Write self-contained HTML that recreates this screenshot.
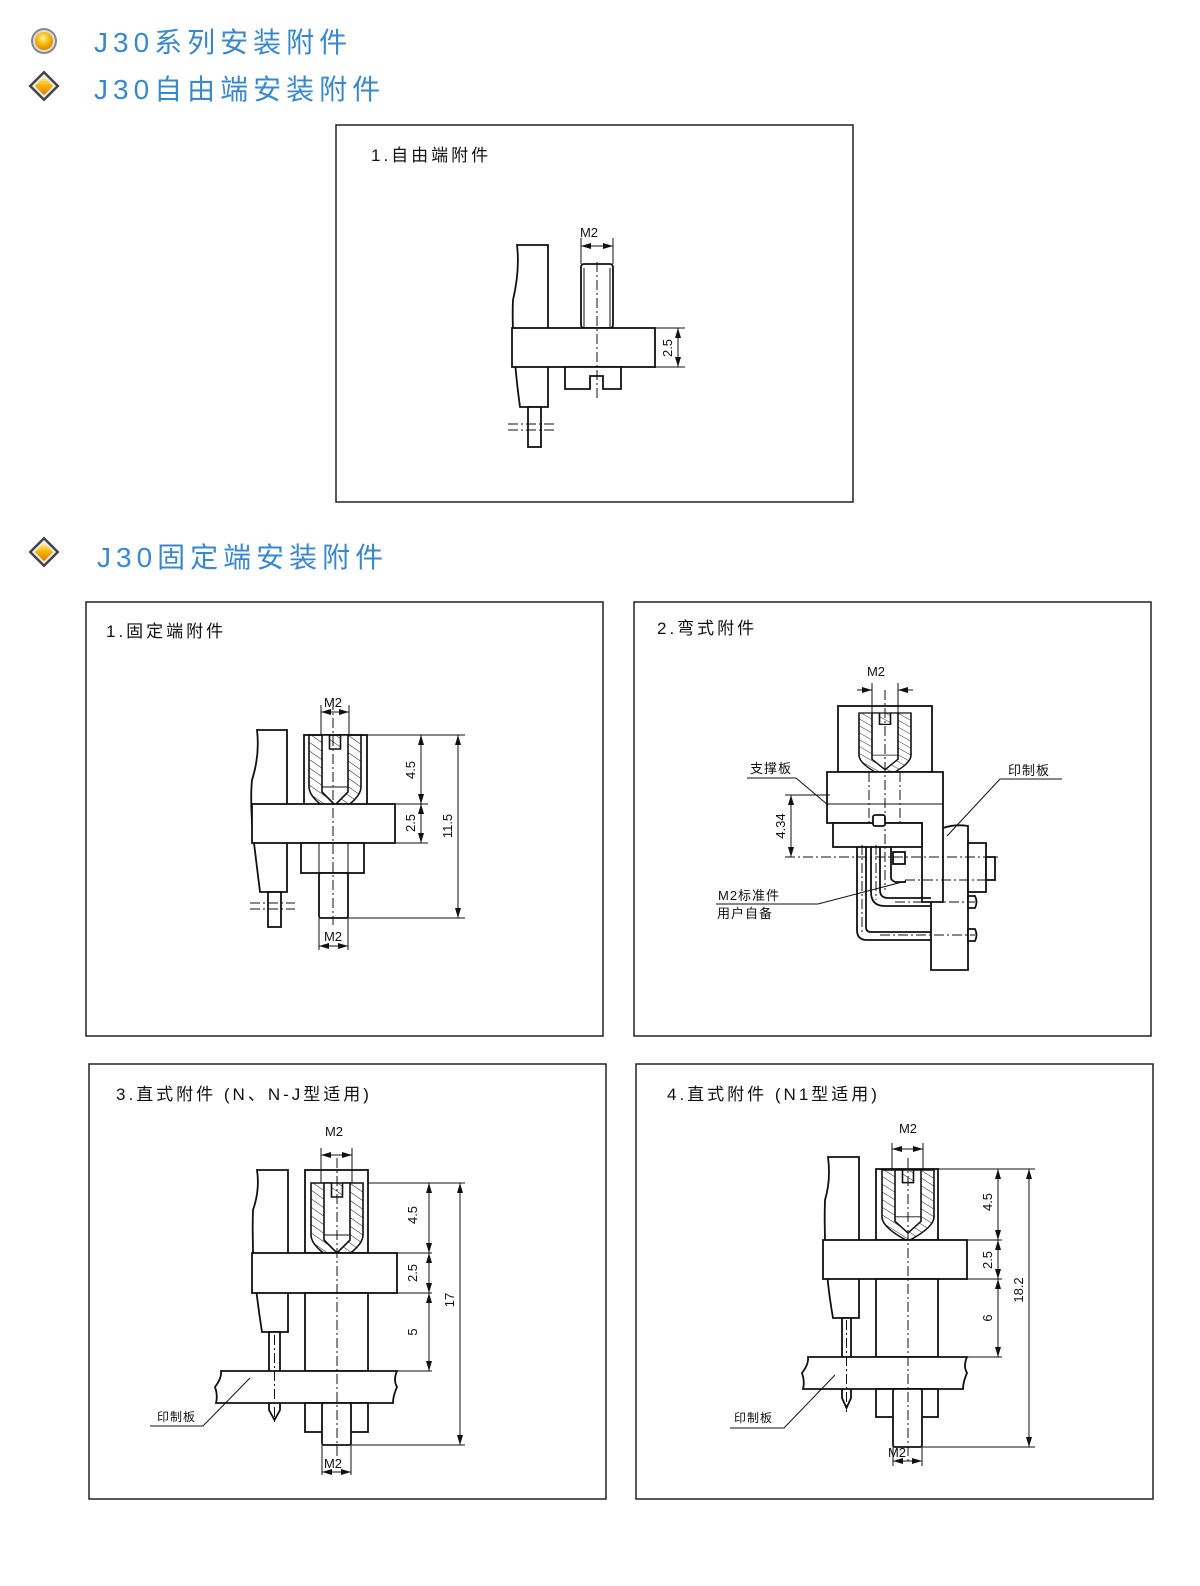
<!DOCTYPE html>
<html><head><meta charset="utf-8"><style>
html,body{margin:0;padding:0;background:#fff;}
svg{display:block;}
.h{font-family:"Liberation Sans","Noto Sans CJK SC",sans-serif;fill:#3a88cc;font-size:28px;letter-spacing:5px;}
.t{font-family:"Liberation Sans","Noto Sans CJK SC",sans-serif;fill:#111;font-size:17px;letter-spacing:3px;}
.s{font-family:"Liberation Sans","Noto Sans CJK SC",sans-serif;fill:#111;font-size:13px;letter-spacing:1px;}
.d{font-family:"Liberation Sans Narrow","Liberation Sans",sans-serif;fill:#111;font-size:13px;}
.l{fill:#fff;stroke:#111;stroke-width:1.8;}
.n{fill:none;stroke:#111;stroke-width:1.8;}
.th{fill:none;stroke:#111;stroke-width:1;}
.c{fill:none;stroke:#111;stroke-width:1;stroke-dasharray:10 3 2 3;}
.dm{fill:none;stroke:#111;stroke-width:1;marker-start:url(#a);marker-end:url(#a);}
.fr{fill:none;stroke:#222;stroke-width:1.5;}
</style></head><body>
<svg width="1200" height="1586" viewBox="0 0 1200 1586" xmlns="http://www.w3.org/2000/svg">
<defs>
<marker id="a" viewBox="0 0 10 6" refX="10" refY="3" markerWidth="10" markerHeight="6" orient="auto-start-reverse" markerUnits="userSpaceOnUse"><path d="M0,0 L10,3 L0,6 Z" fill="#111"/></marker>
<pattern id="hp" width="7" height="7" patternUnits="userSpaceOnUse" patternTransform="rotate(-55)"><line x1="0" y1="0" x2="0" y2="7" stroke="#111" stroke-width="1"/></pattern>
<radialGradient id="og" cx="0.45" cy="0.35" r="0.7"><stop offset="0" stop-color="#fff3a0"/><stop offset="0.5" stop-color="#f7b800"/><stop offset="1" stop-color="#d08000"/></radialGradient>
<linearGradient id="dg" x1="0" y1="0" x2="1" y2="1"><stop offset="0" stop-color="#fff0a0"/><stop offset="0.5" stop-color="#f8b000"/><stop offset="1" stop-color="#e07800"/></linearGradient>
<g id="ins">
<path d="M-26,0 L-26,52 Q-26,64 0,79 Q26,64 26,52 L26,0 Z" fill="url(#hp)" stroke="#111" stroke-width="1.6"/>
<path d="M-13,0 L-5.5,0 L-5.5,14 L5.5,14 L5.5,0 L13,0 L13,57 L0,70 L-13,57 Z" fill="#fff" stroke="#111" stroke-width="1.6"/>
<line x1="-13" y1="52" x2="13" y2="52" stroke="#111" stroke-width="1"/>
</g>
</defs>

<circle cx="44" cy="41" r="13" fill="#888"/><circle cx="44" cy="41" r="11" fill="#ddd"/><circle cx="44" cy="41" r="9" fill="url(#og)"/>
<text class="h" x="94" y="52">J30系列安装附件</text>
<g transform="translate(44,86) rotate(45)"><rect x="-11" y="-11" width="22" height="22" fill="#444"/><rect x="-8.5" y="-8.5" width="17" height="17" fill="#eee"/><rect x="-6.5" y="-6.5" width="13" height="13" fill="url(#dg)"/></g>
<text class="h" x="94" y="99">J30自由端安装附件</text>
<g transform="translate(44,552) rotate(45)"><rect x="-11" y="-11" width="22" height="22" fill="#444"/><rect x="-8.5" y="-8.5" width="17" height="17" fill="#eee"/><rect x="-6.5" y="-6.5" width="13" height="13" fill="url(#dg)"/></g>
<text class="h" x="97" y="567">J30固定端安装附件</text>

<rect class="fr" x="336" y="125" width="517" height="377"/>
<rect class="fr" x="86" y="602" width="517" height="434"/>
<rect class="fr" x="634" y="602" width="517" height="434"/>
<rect class="fr" x="89" y="1064" width="517" height="435"/>
<rect class="fr" x="636" y="1064" width="517" height="435"/>
<text class="t" x="371" y="161">1.自由端附件</text>
<text class="t" x="106" y="637">1.固定端附件</text>
<text class="t" x="657" y="634">2.弯式附件</text>
<text class="t" x="116" y="1100">3.直式附件 (N、N-J型适用)</text>
<text class="t" x="667" y="1100">4.直式附件 (N1型适用)</text>

<!-- Panel 1 -->
<g>
<path class="l" d="M517,245 L548,245 L548,407 L520,407 Q515,370 514,345 Q512,320 513,300 Q520,270 517,245 Z"/>
<rect class="l" x="528" y="407" width="13" height="40"/>
<line class="c" x1="508" y1="424" x2="555" y2="424"/><line class="c" x1="508" y1="430" x2="555" y2="430"/>
<rect class="l" x="581" y="264" width="32" height="64" rx="3"/>
<line class="th" x1="584" y1="268" x2="584" y2="328"/><line class="th" x1="610" y1="268" x2="610" y2="328"/>
<rect class="l" x="512" y="328" width="143" height="39"/>
<path class="l" d="M565,367 L565,389 L590,389 L590,376 L603,376 L603,389 L621,389 L621,367 Z"/>
<line class="c" x1="597" y1="262" x2="597" y2="398"/>
<line class="th" x1="581" y1="238" x2="581" y2="264"/><line class="th" x1="613" y1="238" x2="613" y2="264"/>
<line class="dm" x1="581" y1="246" x2="613" y2="246"/>
<text class="d" x="589" y="237" text-anchor="middle">M2</text>
<line class="th" x1="655" y1="328" x2="685" y2="328"/><line class="th" x1="655" y1="367" x2="685" y2="367"/>
<line class="dm" x1="678" y1="328" x2="678" y2="367"/>
<text class="d" transform="translate(672,348) rotate(-90)" text-anchor="middle">2.5</text>
</g>

<!-- Panel 2 -->
<g>
<path class="l" d="M257,730 L287,730 L287,892 L260,892 Q256,860 253,835 Q250,800 252,780 Q260,755 257,730 Z"/>
<rect class="l" x="268" y="892" width="13" height="35"/>
<line class="c" x1="250" y1="903" x2="295" y2="903"/><line class="c" x1="250" y1="909" x2="295" y2="909"/>
<rect class="l" x="304" y="735" width="63" height="79"/>
<use href="#ins" x="335" y="735"/>
<rect class="l" x="252" y="804" width="143" height="39"/>
<rect class="l" x="301" y="843" width="63" height="30"/>
<rect class="l" x="319" y="873" width="29" height="45" rx="2"/>
<line class="th" x1="319" y1="843" x2="319" y2="873"/><line class="th" x1="348" y1="843" x2="348" y2="873"/>
<line class="c" x1="333" y1="700" x2="333" y2="925"/>
<line class="th" x1="321" y1="705" x2="321" y2="735"/><line class="th" x1="349" y1="705" x2="349" y2="735"/>
<line class="dm" x1="321" y1="712" x2="349" y2="712"/>
<text class="d" x="333" y="707" text-anchor="middle">M2</text>
<line class="th" x1="319" y1="918" x2="319" y2="950"/><line class="th" x1="348" y1="918" x2="348" y2="950"/>
<line class="dm" x1="319" y1="946" x2="348" y2="946"/>
<text class="d" x="333" y="941" text-anchor="middle">M2</text>
<line class="th" x1="367" y1="735" x2="465" y2="735"/>
<line class="th" x1="395" y1="804" x2="428" y2="804"/><line class="th" x1="395" y1="843" x2="428" y2="843"/>
<line class="th" x1="348" y1="918" x2="465" y2="918"/>
<line class="dm" x1="421" y1="735" x2="421" y2="804"/><line class="dm" x1="421" y1="804" x2="421" y2="843"/>
<line class="dm" x1="458" y1="735" x2="458" y2="918"/>
<text class="d" transform="translate(415,770) rotate(-90)" text-anchor="middle">4.5</text>
<text class="d" transform="translate(415,823) rotate(-90)" text-anchor="middle">2.5</text>
<text class="d" transform="translate(452,826) rotate(-90)" text-anchor="middle">11.5</text>
</g>

<!-- Panel 3 -->
<g>
<path class="l" d="M943,828 Q955,824 968,826 L968,970 L931,970 L931,828 Z"/>
<rect class="l" x="838" y="706" width="94" height="66"/>
<use href="#ins" x="885" y="713" transform="translate(885,713) scale(1,0.81) translate(-885,-713)"/>
<path class="l" d="M827,772 L943,772 L943,902 L922,902 L922,823 L827,823 Z"/>
<line class="th" x1="827" y1="804" x2="943" y2="804"/>
<rect class="l" x="833" y="823" width="89" height="24"/>
<rect class="l" x="873" y="815" width="12" height="11" rx="2"/>
<path class="n" d="M857,847 L857,930 Q857,940 867,940 L931,940"/>
<path class="n" d="M866,847 L866,927 Q866,932 871,932 L931,932"/>
<path class="n" d="M871,847 L871,892 Q871,906 885,906 L931,906"/>
<path class="n" d="M880,847 L880,890 Q880,898 888,898 L931,898"/>
<path class="n" d="M891,847 L891,878 Q891,880 895,882 L906,882"/>
<rect class="l" x="893" y="852" width="12" height="12"/>
<rect class="l" x="968" y="843" width="18" height="49"/>
<rect class="l" x="986" y="857" width="9" height="23"/>
<path class="l" d="M968,896 L975,896 Q978,902 975,908 L968,908 Z"/>
<path class="l" d="M968,929 L975,929 Q978,935 975,941 L968,941 Z"/>
<line class="c" x1="885" y1="690" x2="885" y2="890"/>
<line class="c" x1="869" y1="772" x2="869" y2="823"/><line class="c" x1="900" y1="772" x2="900" y2="823"/>
<line class="c" x1="862" y1="845" x2="862" y2="935"/><line class="c" x1="876" y1="845" x2="876" y2="900"/>
<line class="c" x1="785" y1="857" x2="1000" y2="857"/>
<line class="c" x1="905" y1="880" x2="990" y2="880"/>
<line class="c" x1="895" y1="902" x2="975" y2="902"/>
<line class="c" x1="880" y1="935" x2="975" y2="935"/>
<line class="th" x1="872" y1="683" x2="872" y2="713"/><line class="th" x1="898" y1="683" x2="898" y2="713"/>
<line class="th" x1="857" y1="690" x2="872" y2="690" style="marker-end:url(#a)"/>
<line class="th" x1="913" y1="690" x2="898" y2="690" style="marker-end:url(#a)"/>
<text class="d" x="876" y="676" text-anchor="middle" style="font-family:'Liberation Sans',sans-serif">M2</text>
<line class="th" x1="785" y1="795" x2="830" y2="795"/>
<line class="dm" x1="791" y1="795" x2="791" y2="857"/>
<text class="d" transform="translate(785,826) rotate(-90)" text-anchor="middle" style="font-family:'Liberation Sans',sans-serif">4.34</text>
<text class="s" x="750" y="773">支撑板</text>
<polyline class="th" points="747,778 796,778 828,805"/>
<text class="s" x="1008" y="775">印制板</text>
<polyline class="th" points="1062,779 1000,779 947,836"/>
<text class="s" x="718" y="900">M2标准件</text>
<text class="s" x="717" y="918">用户自备</text>
<polyline class="th" points="716,904 818,904 906,881"/>
</g>

<!-- Panel 4 -->
<g>
<path class="l" d="M257,1170 L288,1170 L288,1332 L262,1332 Q257,1300 254,1270 Q252,1240 253,1210 Q260,1190 257,1170 Z"/>
<path class="l" d="M269,1332 L280,1332 L280,1410 L274.5,1420 L269,1410 Z"/>
<rect class="l" x="305" y="1170" width="63" height="83"/>
<use href="#ins" x="337" y="1183"/>
<rect class="l" x="252" y="1253" width="145" height="40"/>
<rect class="l" x="305" y="1293" width="63" height="78"/>
<path class="l" d="M215,1387 Q222,1378 221,1371 L397,1371 Q393,1380 397,1387 Q393,1396 393,1403 L216,1403 Q218,1395 215,1387 Z"/>
<rect class="l" x="305" y="1403" width="63" height="29"/>
<rect class="l" x="322" y="1403" width="29" height="42" rx="2"/>
<line class="c" x1="337" y1="1158" x2="337" y2="1460"/>
<line class="c" x1="274.5" y1="1335" x2="274.5" y2="1425"/>
<line class="th" x1="321" y1="1148" x2="321" y2="1183"/><line class="th" x1="352" y1="1148" x2="352" y2="1183"/>
<line class="dm" x1="321" y1="1155" x2="352" y2="1155"/>
<text class="d" x="334" y="1136" text-anchor="middle">M2</text>
<line class="th" x1="322" y1="1445" x2="322" y2="1475"/><line class="th" x1="351" y1="1445" x2="351" y2="1475"/>
<line class="dm" x1="322" y1="1472" x2="351" y2="1472"/>
<text class="d" x="333" y="1468" text-anchor="middle">M2</text>
<line class="th" x1="368" y1="1183" x2="465" y2="1183"/>
<line class="th" x1="397" y1="1253" x2="432" y2="1253"/><line class="th" x1="397" y1="1293" x2="432" y2="1293"/>
<line class="th" x1="368" y1="1371" x2="432" y2="1371"/>
<line class="th" x1="351" y1="1445" x2="465" y2="1445"/>
<line class="dm" x1="429" y1="1183" x2="429" y2="1253"/><line class="dm" x1="429" y1="1253" x2="429" y2="1293"/><line class="dm" x1="429" y1="1293" x2="429" y2="1371"/>
<line class="dm" x1="460" y1="1183" x2="460" y2="1445"/>
<text class="d" transform="translate(417,1215) rotate(-90)" text-anchor="middle">4.5</text>
<text class="d" transform="translate(417,1273) rotate(-90)" text-anchor="middle">2.5</text>
<text class="d" transform="translate(417,1332) rotate(-90)" text-anchor="middle">5</text>
<text class="d" transform="translate(454,1300) rotate(-90)" text-anchor="middle">17</text>
<text class="s" x="157" y="1421" style="font-size:12px">印制板</text>
<polyline class="th" points="150,1426 203,1426 250,1378"/>
</g>

<!-- Panel 5 -->
<g>
<path class="l" d="M828,1157 L859,1157 L859,1318 L833,1318 Q828,1290 826,1260 Q824,1230 825,1200 Q831,1180 828,1157 Z"/>
<path class="l" d="M842,1318 L851,1318 L851,1398 L846.5,1408 L842,1398 Z"/>
<rect class="l" x="876" y="1169" width="62" height="71"/>
<use href="#ins" x="908" y="1170" transform="translate(908,1170) scale(1,0.9) translate(-908,-1170)"/>
<rect class="l" x="823" y="1240" width="144" height="39"/>
<rect class="l" x="876" y="1279" width="62" height="78"/>
<path class="l" d="M802,1373 Q809,1364 808,1357 L967,1357 Q963,1366 967,1373 Q963,1382 963,1389 L803,1389 Q805,1381 802,1373 Z"/>
<rect class="l" x="876" y="1389" width="62" height="28"/>
<rect class="l" x="893" y="1389" width="29" height="58" rx="2"/>
<line class="c" x1="908" y1="1158" x2="908" y2="1462"/>
<line class="c" x1="846.5" y1="1320" x2="846.5" y2="1412"/>
<line class="th" x1="892" y1="1143" x2="892" y2="1169"/><line class="th" x1="923" y1="1143" x2="923" y2="1169"/>
<line class="dm" x1="892" y1="1149" x2="923" y2="1149"/>
<text class="d" x="908" y="1133" text-anchor="middle">M2</text>
<line class="th" x1="893" y1="1447" x2="893" y2="1466"/><line class="th" x1="922" y1="1447" x2="922" y2="1466"/>
<line class="dm" x1="893" y1="1461" x2="922" y2="1461"/>
<text class="d" x="897" y="1457" text-anchor="middle">M2</text>
<line class="th" x1="938" y1="1169" x2="1035" y2="1169"/>
<line class="th" x1="967" y1="1240" x2="1002" y2="1240"/><line class="th" x1="967" y1="1279" x2="1002" y2="1279"/>
<line class="th" x1="938" y1="1357" x2="1002" y2="1357"/>
<line class="th" x1="922" y1="1447" x2="1035" y2="1447"/>
<line class="dm" x1="998" y1="1169" x2="998" y2="1240"/><line class="dm" x1="998" y1="1240" x2="998" y2="1279"/><line class="dm" x1="998" y1="1279" x2="998" y2="1357"/>
<line class="dm" x1="1029" y1="1169" x2="1029" y2="1447"/>
<text class="d" transform="translate(992,1202) rotate(-90)" text-anchor="middle">4.5</text>
<text class="d" transform="translate(992,1260) rotate(-90)" text-anchor="middle">2.5</text>
<text class="d" transform="translate(992,1318) rotate(-90)" text-anchor="middle">6</text>
<text class="d" transform="translate(1023,1290) rotate(-90)" text-anchor="middle">18.2</text>
<text class="s" x="734" y="1422" style="font-size:12px">印制板</text>
<polyline class="th" points="730,1428 784,1428 835,1375"/>
</g>
</svg>
</body></html>
